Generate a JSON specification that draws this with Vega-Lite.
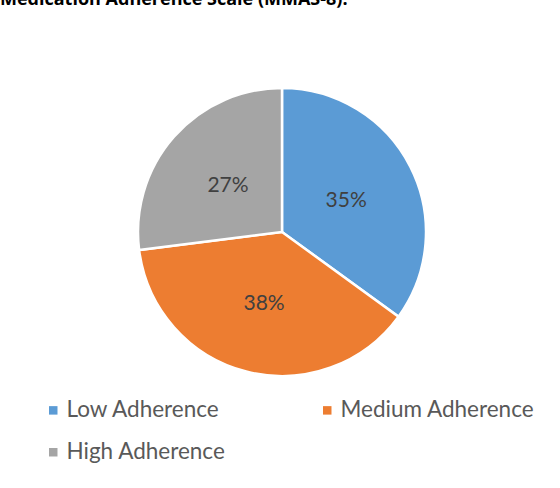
{
  "$schema": "https://vega.github.io/schema/vega-lite/v6.json",
  "autosize": "none",
  "padding": 0,
  "width": 564,
  "height": 464,
  "background": "white",
  "config": {"view": {"stroke": null}},
  "title": {
    "text": "Medication Adherence Scale (MMAS-8):",
    "anchor": "start",
    "frame": "group",
    "orient": "top",
    "offset": 0,
    "dy": 9,
    "fontSize": 18,
    "fontWeight": "bold",
    "font": "Open Sans",
    "color": "black"
  },
  "data": {
    "values": [
      {"category": "Low Adherence", "value": 0.35, "rank": 1},
      {"category": "Medium Adherence", "value": 0.38, "rank": 2},
      {"category": "High Adherence", "value": 0.27, "rank": 3}
    ]
  },
  "encoding": {
    "theta": {"field": "value", "type": "quantitative", "stack": true},
    "order": {"field": "rank", "type": "quantitative"}
  },
  "layer": [
    {
      "mark": {"type": "arc", "outerRadius": 144, "stroke": "white", "strokeWidth": 2.5},
      "encoding": {
        "color": {
          "field": "category",
          "type": "nominal",
          "scale": {
            "domain": ["Low Adherence", "Medium Adherence", "High Adherence"],
            "range": ["#5B9BD5", "#ED7D31", "#A5A5A5"]
          },
          "legend": {
            "title": null,
            "orient": "none",
            "legendX": 42,
            "legendY": 399,
            "direction": "horizontal",
            "columns": 2,
            "gridAlign": "all",
            "columnPadding": 55,
            "rowPadding": 19,
            "symbolType": "square",
            "symbolSize": 72,
            "symbolStrokeWidth": 0,
            "labelOffset": 2,
            "labelFont": "Lato",
            "labelFontSize": 22.5,
            "labelColor": "#595959",
            "labelLimit": 300
          }
        }
      }
    },
    {
      "mark": {"type": "text", "radius": 72, "dy": 2, "font": "Lato", "fontSize": 21, "color": "#404040"},
      "encoding": {
        "text": {"field": "value", "type": "quantitative", "format": ".0%"}
      }
    }
  ]
}
